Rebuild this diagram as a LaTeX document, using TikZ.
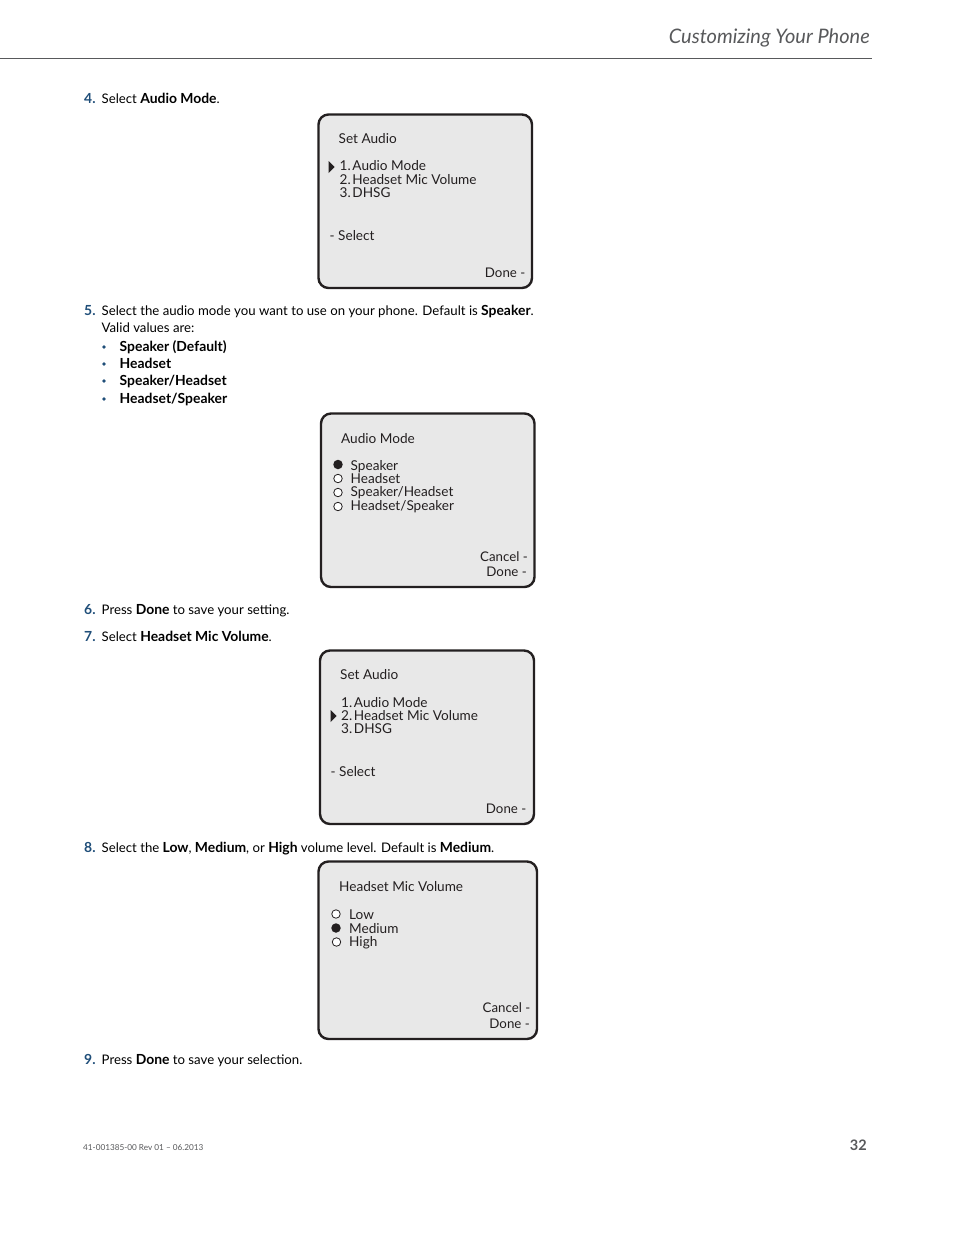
\documentclass[tikz,border=0pt]{standalone}
\usepackage{fontspec}
\setmainfont{Lato}
\usetikzlibrary{shapes.geometric}
\definecolor{stepblue}{HTML}{1F4E79}
\definecolor{inkgray}{HTML}{58595B}
\definecolor{screengray}{HTML}{E8E8E8}
\definecolor{screenline}{HTML}{231F20}
\newcommand{\bt}[1]{{\fontsize{13.9}{15}\selectfont\bfseries #1}}
\newcommand{\nk}{\kern-1.8pt}
\tikzset{
  body/.style={anchor=base west, inner sep=0pt, text=black, font=\fontsize{13.2}{15}\selectfont},
  stepno/.style={anchor=base west, inner sep=0pt, text=stepblue, font=\fontsize{13.9}{15}\selectfont\bfseries},
  dotmark/.style={circle, fill=stepblue, inner sep=0pt, minimum size=3.6pt},
  screen/.style={draw=screenline, line width=2.4pt, fill=screengray, rounded corners=10pt},
  lcd/.style={anchor=base west, inner sep=0pt, text=screenline, font=\fontsize{13.6}{15}\selectfont},
  lcdr/.style={anchor=base east, inner sep=0pt, text=screenline, font=\fontsize{13.3}{15}\selectfont},
  radiooff/.style={circle, draw=screenline, fill=white, line width=0.8pt, inner sep=0pt, minimum size=8.5pt},
  radioon/.style={circle, fill=screenline, inner sep=0pt, minimum size=9.5pt},
  pointer/.style={isosceles triangle, isosceles triangle stretches, fill=screenline, inner sep=0pt, minimum height=6pt, minimum width=12pt}
}
\begin{document}
\begin{tikzpicture}[x=1pt, y=-1pt]
  \useasboundingbox (0,0) rectangle (954,1235);
  \fill[white] (0,0) rectangle (954,1235);
  % page header
  \node[anchor=base east, inner sep=0pt, text=inkgray, font=\fontsize{20}{22}\selectfont\itshape] (title) at (870,43) {Customizing Your Phone};
  \coordinate (ruleL) at (0,58);
  \coordinate (ruleR) at (872,58);
  \draw[inkgray, line width=0.9pt] (ruleL) -- (ruleR);
  % step 4
  \node[stepno] (s4) at (84,103) {4.};
  \node[body] (t4) at (101.5,103) {Select \bt{Audio Mode}.};
  \draw[screen] (318.5,114.5) rectangle (532,288);
  \node[lcd] (a1) at (338.5,143) {Set Audio};
  \node[pointer] (a2p) at (331,167) {};
  \node[lcd] (a2) at (339.5,170) {1.\nk\ Audio Mode};
  \node[lcd] (a3) at (339.5,184) {2.\nk\ Headset Mic Volume};
  \node[lcd] (a4) at (339.5,197.5) {3.\nk\ DHSG};
  \node[lcd] (a5) at (329.5,240) {- Select};
  \node[lcdr] (a6) at (525.5,277) {Done -};
  % step 5
  \node[stepno] (s5) at (84,315) {5.};
  \node[body] (t5) at (101.5,315) {Select the audio mode you want to use on your phone. Default is \bt{Speaker}.};
  \node[body] (t5b) at (101.5,332) {Valid values are:};
  \node[dotmark] (d1) at (104,347) {};
  \node[body] (v1) at (119.5,351) {\bt{Speaker (Default)}};
  \node[dotmark] (d2) at (104,364) {};
  \node[body] (v2) at (119.5,368) {\bt{Headset}};
  \node[dotmark] (d3) at (104,381) {};
  \node[body] (v3) at (119.5,385) {\bt{Speaker/Headset}};
  \node[dotmark] (d4) at (104,399) {};
  \node[body] (v4) at (119.5,403) {\bt{Headset/Speaker}};
  \draw[screen] (321,413.5) rectangle (534.5,587);
  \node[lcd] (b1) at (341,443) {Audio Mode};
  \node[radioon] (b2r) at (338,464.5) {};
  \node[lcd] (b2) at (350.5,470) {Speaker};
  \node[radiooff] (b3r) at (338,478.5) {};
  \node[lcd] (b3) at (350.5,483) {Headset};
  \node[radiooff] (b4r) at (338,492.5) {};
  \node[lcd] (b4) at (350.5,496.5) {Speaker/Headset};
  \node[radiooff] (b5r) at (338,506.5) {};
  \node[lcd] (b5) at (350.5,510) {Headset/Speaker};
  \node[lcdr] (b6) at (528,561) {Cancel -};
  \node[lcdr] (b7) at (527,576) {Done -};
  % steps 6 and 7
  \node[stepno] (s6) at (84,614) {6.};
  \node[body] (t6) at (101.5,614) {Press \bt{Done} to save your setting.};
  \node[stepno] (s7) at (84,641) {7.};
  \node[body] (t7) at (101.5,641) {Select \bt{Headset Mic Volume}.};
  \draw[screen] (320,650.5) rectangle (534,824);
  \node[lcd] (c1) at (340,679) {Set Audio};
  \node[lcd] (c2) at (341,707) {1.\nk\ Audio Mode};
  \node[pointer] (c3p) at (333,716) {};
  \node[lcd] (c3) at (341,720) {2.\nk\ Headset Mic Volume};
  \node[lcd] (c4) at (341,733.5) {3.\nk\ DHSG};
  \node[lcd] (c5) at (330.5,776) {- Select};
  \node[lcdr] (c6) at (526.5,813) {Done -};
  % step 8
  \node[stepno] (s8) at (84,852) {8.};
  \node[body] (t8) at (101.5,852) {Select the \bt{Low}, \bt{Medium}, or \bt{High} volume level. Default is \bt{Medium}.};
  \draw[screen] (318.5,861.5) rectangle (537,1039);
  \node[lcd] (e1) at (339,891) {Headset Mic Volume};
  \node[radiooff] (e2r) at (336,914) {};
  \node[lcd] (e2) at (349,919) {Low};
  \node[radioon] (e3r) at (336,928) {};
  \node[lcd] (e3) at (349,933) {Medium};
  \node[radiooff] (e4r) at (336.5,942) {};
  \node[lcd] (e4) at (349,946) {High};
  \node[lcdr] (e5) at (530.5,1012) {Cancel -};
  \node[lcdr] (e6) at (530,1028) {Done -};
  % step 9
  \node[stepno] (s9) at (84,1064) {9.};
  \node[body] (t9) at (101.5,1064) {Press \bt{Done} to save your selection.};
  % footer
  \node[anchor=base west, inner sep=0pt, text=inkgray, font=\fontsize{8.2}{10}\selectfont] (foot) at (83,1150) {41-001385-00 Rev 01 – 06.2013};
  \node[anchor=base east, inner sep=0pt, text=inkgray, font=\fontsize{14.5}{16}\selectfont\bfseries] (page) at (867,1150) {32};
\end{tikzpicture}
\end{document}
